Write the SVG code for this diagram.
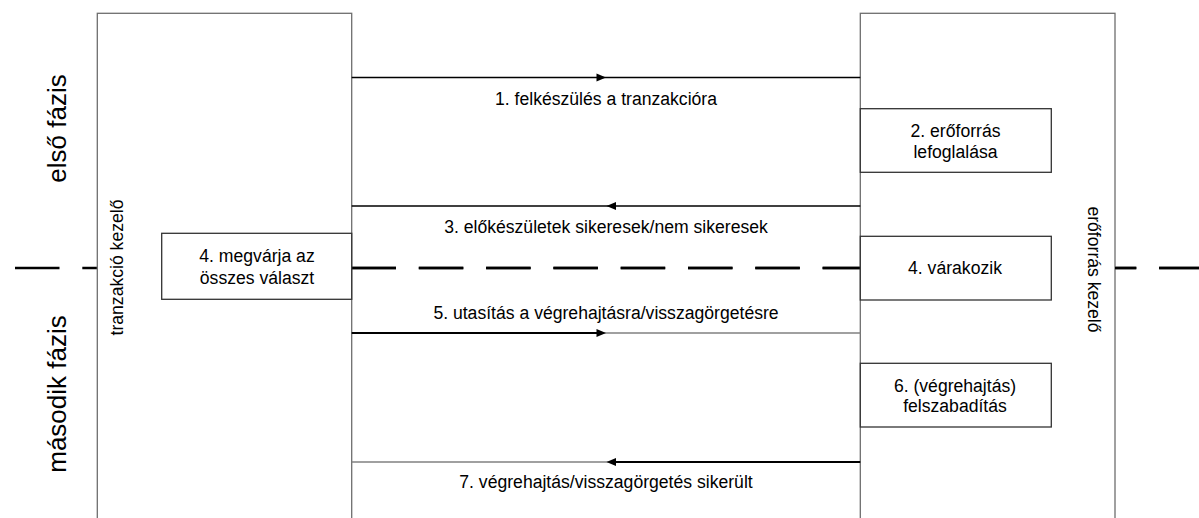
<svg xmlns="http://www.w3.org/2000/svg" width="1199" height="518" viewBox="0 0 1199 518">
  <style>
    text { font-family: "Liberation Sans", Arial, sans-serif; fill: #000; }
    .lbl { font-size: 17.6px; text-anchor: middle; }
    .phase { font-size: 26px; text-anchor: middle; }
    .lane { fill: #fff; stroke: #6e6e6e; stroke-width: 1.3; }
    .step { fill: #fff; stroke: #333; stroke-width: 1.3; }
    .msg { stroke: #000; stroke-width: 1.3; fill: none; }
    .thick { stroke: #000; stroke-width: 2.2; fill: none; }
    .faint { stroke: #808080; stroke-width: 1.5; fill: none; }
    .head { fill: #000; }
    .divider { stroke: #000; stroke-width: 2.5; stroke-dasharray: 44.5 22.8; fill: none; }
  </style>

  <!-- phase divider (drawn first so the lanes cover it) -->
  <g id="phase-divider">
    <line class="divider" x1="15" y1="268" x2="1199" y2="268"/>
  </g>

  <!-- phase captions -->
  <g id="phase-1">
    <text class="phase" transform="translate(65.5,128.5) rotate(-90)">első fázis</text>
  </g>
  <g id="phase-2">
    <text class="phase" transform="translate(65.5,394) rotate(-90)">második fázis</text>
  </g>

  <!-- transaction manager lane -->
  <g id="transaction-manager">
    <rect class="lane" x="97.3" y="13.3" width="254.4" height="520"/>
    <text class="lbl" transform="translate(122.5,267.5) rotate(-90)">tranzakció kezelő</text>
  </g>

  <!-- resource manager lane -->
  <g id="resource-manager">
    <rect class="lane" x="860.3" y="13.3" width="254.7" height="520"/>
    <text class="lbl" transform="translate(1087.5,269.5) rotate(90)">erőforrás kezelő</text>
  </g>

  <!-- dashed divider segment visible between the lanes -->
  <g id="phase-divider-middle">
    <line class="divider" x1="15" y1="268" x2="1199" y2="268" clip-path="url(#between)"/>
  </g>
  <defs>
    <clipPath id="between">
      <rect x="351.7" y="255" width="508.6" height="26"/>
      <rect x="1115" y="255" width="84" height="26"/>
    </clipPath>
  </defs>

  <g id="step-4-wait-all">
    <rect class="step" x="161.7" y="233.3" width="190" height="66"/>
    <text class="lbl" x="257" y="262">4. megvárja az</text>
    <text class="lbl" x="257" y="283.5">összes választ</text>
  </g>

  <g id="step-2-lock">
    <rect class="step" x="860.3" y="108.7" width="191" height="63.6"/>
    <text class="lbl" x="955.5" y="136.5">2. erőforrás</text>
    <text class="lbl" x="955.5" y="158">lefoglalása</text>
  </g>

  <g id="step-4-waiting">
    <rect class="step" x="860.3" y="236.3" width="191" height="63.7"/>
    <text class="lbl" x="955" y="274">4. várakozik</text>
  </g>

  <g id="step-6-release">
    <rect class="step" x="860.3" y="363.3" width="191" height="63.7"/>
    <text class="lbl" x="955" y="392">6. (végrehajtás)</text>
    <text class="lbl" x="955" y="412">felszabadítás</text>
  </g>

  <!-- messages between the lanes -->
  <g id="connectors">
    <!-- 1: prepare -->
    <line class="msg" x1="351.7" y1="77.5" x2="860.3" y2="77.5"/>
    <polygon class="head" points="596.5,73.5 606,77.5 596.5,81.5"/>
    <!-- 3: votes -->
    <line class="msg" x1="351.7" y1="206" x2="860.3" y2="206"/>
    <polygon class="head" points="616,202 606.5,206 616,210"/>
    <!-- 5: commit / rollback order -->
    <line class="thick" x1="351.7" y1="333" x2="600" y2="333"/>
    <line class="faint" x1="600" y1="333" x2="860.3" y2="333"/>
    <polygon class="head" points="596.5,329 606,333 596.5,337"/>
    <!-- 7: acknowledgement -->
    <line class="faint" x1="351.7" y1="462" x2="612" y2="462"/>
    <line class="thick" x1="612" y1="462" x2="860.3" y2="462"/>
    <polygon class="head" points="616,458 606.5,462 616,466"/>
  </g>

  <g id="message-labels">
    <text class="lbl" x="606" y="104.5">1. felkészülés a tranzakcióra</text>
    <text class="lbl" x="606" y="233">3. előkészületek sikeresek/nem sikeresek</text>
    <text class="lbl" x="606" y="319">5. utasítás a végrehajtásra/visszagörgetésre</text>
    <text class="lbl" x="606" y="488">7. végrehajtás/visszagörgetés sikerült</text>
  </g>
</svg>
